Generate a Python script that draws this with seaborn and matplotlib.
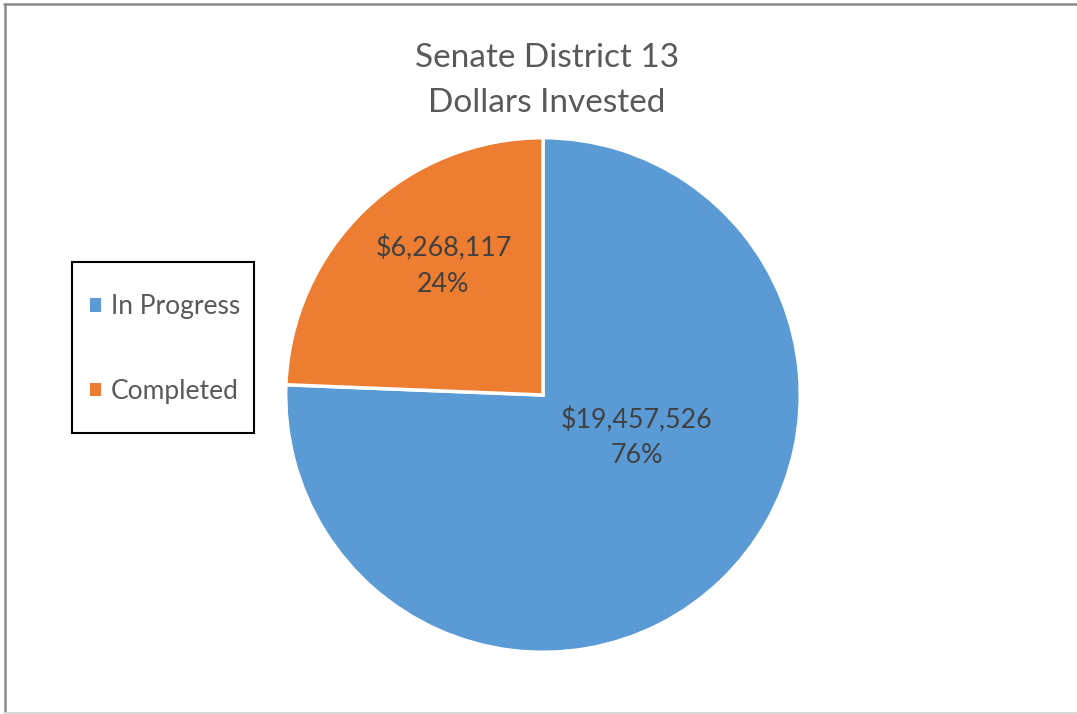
""" Senate District 13 - dollars invested pie """

import matplotlib.pyplot as plt
import seaborn as sns
from matplotlib.lines import Line2D
from matplotlib.patches import Patch, Rectangle

categories = ["In Progress", "Completed"]
dollars = [19457526, 6268117]
colors = ["#5B9BD5", "#ED7D31"]
title_lines = ["Senate District 13", "Dollars Invested"]

W, H = 1077, 714

sns.set_theme(style="white")
plt.rcParams["font.family"] = ["Lato", "DejaVu Sans"]

fig = plt.figure(figsize=(W / 100, H / 100), dpi=100)


def fx(px):
    return px / W


def fy(py):
    # pixel rows counted from the top
    return 1 - py / H


# pie axes: centre (543, 395) px, radius 256 px
cx, cy, r = 543, 395, 256
ax = fig.add_axes([fx(cx - r), fy(cy + r), 2 * r / W, 2 * r / H])

total = sum(dollars)
wedges, _ = ax.pie(
    dollars,
    colors=colors,
    startangle=90,
    counterclock=False,
    wedgeprops={"edgecolor": "white", "linewidth": 2.5},
)
ax.set_xlim(-0.995, 0.995)
ax.set_ylim(-0.995, 0.995)

# data labels (x centre, baseline of value line, baseline of percent line)
label_pos = [(0.363, -0.129, -0.266), (-0.387, 0.539, 0.402)]
for val, (x, y1, y2) in zip(dollars, label_pos):
    ax.text(x, y1, f"${val:,}", ha="center", va="baseline", fontsize=19.3, color="#404040")
    ax.text(x, y2, f"{val / total:.0%}", ha="center", va="baseline", fontsize=19.3, color="#404040")

# title, two lines
for line, base in zip(title_lines, [67, 112]):
    fig.text(fx(cx + 4), fy(base), line, ha="center", va="baseline", fontsize=24, color="#595959")

# legend with a separately drawn box
handles = [Patch(facecolor=c, edgecolor="none") for c in colors]
fig.legend(handles, categories, loc="center left", bbox_to_anchor=(fx(90), fy(349)),
           frameon=False, fontsize=19, labelspacing=2.25, handlelength=0.4, handleheight=0.4,
           handletextpad=0.4, borderpad=0, borderaxespad=0, labelcolor="#595959")
fig.add_artist(Rectangle((fx(72), fy(433)), (254 - 72) / W, (433 - 262) / H,
                         transform=fig.transFigure, fill=False, edgecolor="black", linewidth=1.5))

# chart area border: darker top/left, faint bottom
fig.add_artist(Line2D([fx(4), 1], [fy(3.5), fy(3.5)], transform=fig.transFigure,
                      color="#8C8C8C", linewidth=1.8))
fig.add_artist(Line2D([fx(4.5), fx(4.5)], [fy(3.5), fy(713)], transform=fig.transFigure,
                      color="#8C8C8C", linewidth=1.8))
fig.add_artist(Line2D([fx(4), 1], [fy(712.5), fy(712.5)], transform=fig.transFigure,
                      color="#D9D9D9", linewidth=1.5))

fig.savefig("out.png", dpi=100)
